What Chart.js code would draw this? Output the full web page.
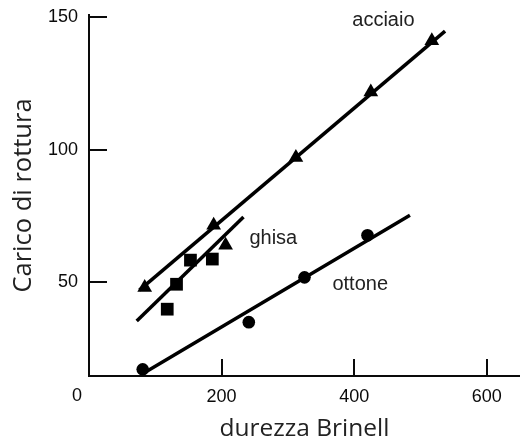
<!DOCTYPE html>
<html>
<head>
<meta charset="utf-8">
<script src="https://cdn.jsdelivr.net/npm/chart.js@4.4.0/dist/chart.umd.min.js"></script>
<style>
  html, body { margin: 0; padding: 0; background: #fff; }
  #wrap { width: 520px; height: 445px; }
</style>
</head>
<body>
<div id="wrap"><canvas id="chart"></canvas></div>
<script>
// measured points (x = durezza Brinell, y = carico di rottura)
const acciaioX = [84, 188, 312, 425, 517];
const acciaioY = [48, 71.5, 97, 121.7, 141];
const ghisaX = [118, 132, 153, 186];
const ghisaY = [39.8, 49.2, 58.3, 58.7];
const ghisaTriX = [206];
const ghisaTriY = [63.9];
const ottoneX = [81, 241, 325, 420];
const ottoneY = [17.1, 34.9, 51.8, 67.7];

// fitted lines, start and end
const acciaioFitX = [76, 537];
const acciaioFitY = [47, 144.7];
const ghisaFitX = [72, 233];
const ghisaFitY = [35.3, 74.6];
const ottoneFitX = [86, 484];
const ottoneFitY = [16.2, 75.2];

const xTicks = [0, 200, 400, 600];
const yTicks = [50, 100, 150];

// where the series names sit, in data units
const seriesLabels = [
  { text: 'acciaio', x: 444, y: 148.7 },
  { text: 'ghisa', x: 278, y: 66.6 },
  { text: 'ottone', x: 409, y: 49.1 }
];

const toPts = (xs, ys) => xs.map((v, i) => ({ x: v, y: ys[i] }));
const ink = '#0a0a0a';
const tickFont = { family: '"Liberation Sans", Arial, sans-serif', size: 18 };

function markers(label, xs, ys, style, r){
  return { label, data: toPts(xs, ys), showLine: false, pointStyle: style,
    pointRadius: r, pointHoverRadius: r, backgroundColor: '#000', borderColor: '#000', borderWidth: 0 };
}
function fit(label, xs, ys){
  return { label, data: toPts(xs, ys), showLine: true, pointRadius: 0,
    borderColor: '#000', borderWidth: 3.5, borderCapStyle: 'butt' };
}
function noPad(s){
  s.paddingLeft = 0; s.paddingRight = 0; s.paddingTop = 0; s.paddingBottom = 0;
}

const decor = {
  id: 'decor',
  afterDraw(chart){
    const { ctx, scales: { x, y } } = chart;
    ctx.save();
    // inward tick marks
    ctx.strokeStyle = ink;
    ctx.lineWidth = 2;
    xTicks.filter(v => v > 0).forEach(v => {
      const px = Math.round(x.getPixelForValue(v));
      ctx.beginPath(); ctx.moveTo(px, y.bottom); ctx.lineTo(px, y.bottom - 17); ctx.stroke();
    });
    yTicks.forEach(v => {
      const py = Math.round(y.getPixelForValue(v));
      ctx.beginPath(); ctx.moveTo(x.left, py); ctx.lineTo(x.left + 18, py); ctx.stroke();
    });
    // origin label
    ctx.fillStyle = ink;
    ctx.textAlign = 'center';
    ctx.textBaseline = 'middle';
    ctx.font = '18px "Liberation Sans", Arial, sans-serif';
    ctx.fillText('0', x.getPixelForValue(0) - 12, y.bottom + 20);
    // series names
    ctx.fillStyle = '#222';
    ctx.font = '20px "Liberation Sans", Arial, sans-serif';
    seriesLabels.forEach(l => ctx.fillText(l.text, x.getPixelForValue(l.x), y.getPixelForValue(l.y)));
    ctx.restore();
  }
};

new Chart(document.getElementById('chart'), {
  type: 'scatter',
  data: {
    datasets: [
      fit('acciaio fit', acciaioFitX, acciaioFitY),
      fit('ghisa fit', ghisaFitX, ghisaFitY),
      fit('ottone fit', ottoneFitX, ottoneFitY),
      markers('acciaio', acciaioX, acciaioY, 'triangle', 8.5),
      markers('ghisa', ghisaX, ghisaY, 'rect', 9),
      markers('ghisa ▲', ghisaTriX, ghisaTriY, 'triangle', 8.5),
      markers('ottone', ottoneX, ottoneY, 'circle', 6.3)
    ]
  },
  options: {
    responsive: true,
    maintainAspectRatio: false,
    animation: false,
    clip: false,
    layout: { autoPadding: false, padding: { top: 15, left: 0, right: 0, bottom: 0 } },
    plugins: { legend: { display: false }, tooltip: { enabled: false } },
    scales: {
      x: {
        type: 'linear', min: 0, max: 650,
        afterBuildTicks: s => { s.ticks = xTicks.map(v => ({ value: v })); },
        afterFit: s => { s.height = 69; noPad(s); },
        ticks: { callback: v => v === 0 ? '' : v, font: tickFont, color: ink, padding: 10, maxRotation: 0, autoSkip: false },
        grid: { display: false, drawTicks: false },
        border: { display: true, color: ink, width: 2 },
        title: { display: true, text: 'durezza Brinell', font: { family: '"Open Sans", sans-serif', size: 24.5 },
          color: '#222', padding: { top: 0, bottom: 1 } }
      },
      y: {
        type: 'linear', min: 14.6, max: 150.75,
        afterBuildTicks: s => { s.ticks = yTicks.map(v => ({ value: v })); },
        afterFit: s => { s.width = 89; noPad(s); },
        ticks: { font: tickFont, color: ink, padding: 11, autoSkip: false },
        grid: { display: false, drawTicks: false },
        border: { display: true, color: ink, width: 2 },
        title: { display: true, text: 'Carico di rottura', font: { family: '"Open Sans", sans-serif', size: 25.5 },
          color: '#222', padding: { top: 8, bottom: 0 } }
      }
    }
  },
  plugins: [decor]
});
</script>
</body>
</html>
